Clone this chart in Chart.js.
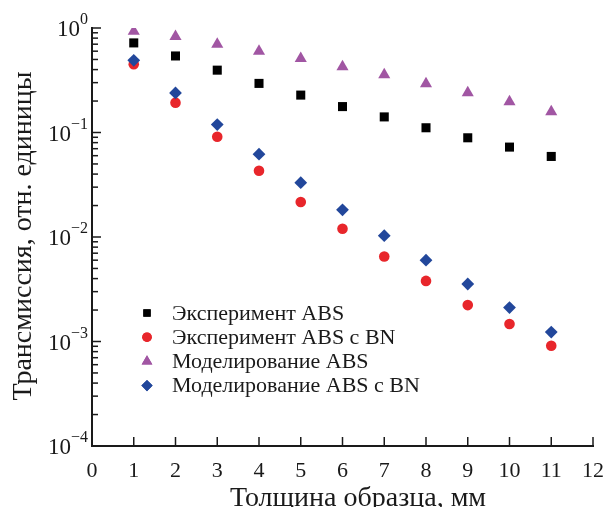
<!DOCTYPE html>
<html>
<head>
<meta charset="utf-8">
<script src="https://cdn.jsdelivr.net/npm/chart.js@4"></script>
<style>
html,body{margin:0;padding:0;background:#fff;}
canvas{display:block;}
</style>
</head>
<body>
<canvas id="c" width="608" height="507"></canvas>
<script>
// ---- data ----
const thickness = [1, 2, 3, 4, 5, 6, 7, 8, 9, 10, 11];
const expABS     = [0.72, 0.54, 0.395, 0.295, 0.228, 0.177, 0.141, 0.111, 0.089, 0.0725, 0.059];
const expABSBN   = [0.45, 0.193, 0.091, 0.043, 0.0216, 0.012, 0.0065, 0.0038, 0.00223, 0.00147, 0.00091];
const modABS     = [0.93, 0.83, 0.70, 0.60, 0.51, 0.425, 0.357, 0.293, 0.24, 0.197, 0.158];
const modABSBN   = [0.49, 0.239, 0.119, 0.062, 0.0331, 0.0182, 0.0103, 0.006, 0.00355, 0.00211, 0.00123];
const seriesNames = ['Эксперимент ABS', 'Эксперимент ABS с BN', 'Моделирование ABS', 'Моделирование ABS с BN'];
const xTickLabels = ['0','1','2','3','4','5','6','7','8','9','10','11','12'];
const yTickExponents = ['0', '−1', '−2', '−3', '−4'];
const xTitle = 'Толщина образца, мм';
const yTitle = 'Трансмиссия, отн. единицы';

const FONT = '"Liberation Serif", "Times New Roman", serif';
const INK = '#1a1a1a';

function pts(ys){ return thickness.map((x,i)=>({x:x, y:ys[i]})); }

const styles = [
  {pointStyle:'rect', radius:6.4, color:'#000000', order:1},
  {pointStyle:'circle', radius:5.3, color:'#e8262b', order:2},
  {pointStyle:'triangle', radius:7.0, color:'#a156a3', order:1},
  {pointStyle:'rectRot', radius:6.4, color:'#22479b', order:0}
];
const allSeries = [expABS, expABSBN, modABS, modABSBN];

const datasets = allSeries.map((s,i)=>({
  label: seriesNames[i],
  data: pts(s),
  pointStyle: styles[i].pointStyle,
  pointRadius: styles[i].radius,
  pointHoverRadius: styles[i].radius,
  backgroundColor: styles[i].color,
  borderColor: styles[i].color,
  borderWidth: 0,
  showLine: false,
  order: styles[i].order
}));

const axesPlugin = {
  id: 'axesPlugin',
  afterDatasetsDraw(chart){
    const ctx = chart.ctx;
    const xs = chart.scales.x, ys = chart.scales.y;
    const ca = chart.chartArea;
    ctx.save();
    ctx.strokeStyle = INK;
    ctx.fillStyle = INK;
    // axis lines
    ctx.lineWidth = 2;
    ctx.beginPath();
    ctx.moveTo(ca.left, ca.top - 1);
    ctx.lineTo(ca.left, ca.bottom);
    ctx.lineTo(ca.right + 1, ca.bottom);
    ctx.stroke();
    // x ticks
    ctx.lineWidth = 1.5;
    ctx.font = '22px ' + FONT;
    ctx.textAlign = 'center';
    ctx.textBaseline = 'alphabetic';
    xTickLabels.forEach((lab)=>{
      const v = parseFloat(lab);
      const px = xs.getPixelForValue(v);
      if (v > 0) {
        ctx.beginPath();
        ctx.moveTo(px, ca.bottom);
        ctx.lineTo(px, ca.bottom - 9);
        ctx.stroke();
      }
      ctx.fillText(lab, px, ca.bottom + 31);
    });
    // y ticks (log)
    for (let e = -4; e <= 0; e++) {
      const base = Math.pow(10, e);
      const py = ys.getPixelForValue(base);
      ctx.beginPath();
      ctx.moveTo(ca.left, py);
      ctx.lineTo(ca.left + 9, py);
      ctx.stroke();
      if (e < 0) {
        for (let k = 2; k <= 9; k++) {
          const pm = ys.getPixelForValue(k * base);
          ctx.beginPath();
          ctx.moveTo(ca.left, pm);
          ctx.lineTo(ca.left + 6, pm);
          ctx.stroke();
        }
      }
    }
    // y tick labels 10^e
    yTickExponents.forEach((ex, i)=>{
      const e = -i;
      const py = ys.getPixelForValue(Math.pow(10, e));
      const rightX = 88;
      ctx.font = '16px ' + FONT;
      const ew = ctx.measureText(ex).width;
      ctx.textAlign = 'left';
      ctx.fillText(ex, rightX - ew, py - 4);
      ctx.font = '23px ' + FONT;
      const bw = ctx.measureText('10').width;
      ctx.fillText('10', rightX - ew - bw, py + 8);
    });
    // titles
    ctx.font = '28px ' + FONT;
    ctx.textAlign = 'center';
    ctx.textBaseline = 'alphabetic';
    ctx.fillText(xTitle, 358, 506);
    ctx.save();
    ctx.translate(31, 236);
    ctx.rotate(-Math.PI/2);
    ctx.fillText(yTitle, 0, 0);
    ctx.restore();
    // legend
    const lx = 147, ltx = 172, ly0 = 313, ldy = 24.2;
    const legendRadius = [5.2, 4.8, 6.2, 5.6];
    ctx.font = '22px ' + FONT;
    ctx.textAlign = 'left';
    ctx.textBaseline = 'middle';
    chart.data.datasets.forEach((ds, i)=>{
      const y = ly0 + i * ldy;
      ctx.fillStyle = ds.backgroundColor;
      ctx.strokeStyle = ds.backgroundColor;
      Chart.helpers.drawPoint(ctx, {pointStyle: ds.pointStyle, radius: legendRadius[i], borderWidth: 0, rotation: 0}, lx, y);
      ctx.fill();
      ctx.fillStyle = INK;
      ctx.fillText(ds.label, ltx, y + 1);
    });
    ctx.restore();
  }
};

new Chart(document.getElementById('c'), {
  type: 'scatter',
  data: { datasets: datasets },
  options: {
    responsive: false,
    animation: false,
    devicePixelRatio: 1,
    layout: { padding: { left: 92, right: 15, top: 28, bottom: 61 } },
    plugins: { legend: { display: false }, tooltip: { enabled: false } },
    scales: {
      x: { type: 'linear', min: 0, max: 12, display: false },
      y: { type: 'logarithmic', min: 1e-4, max: 1, display: false }
    },
    elements: { point: { borderWidth: 0 } }
  },
  plugins: [axesPlugin]
});
</script>
</body>
</html>
